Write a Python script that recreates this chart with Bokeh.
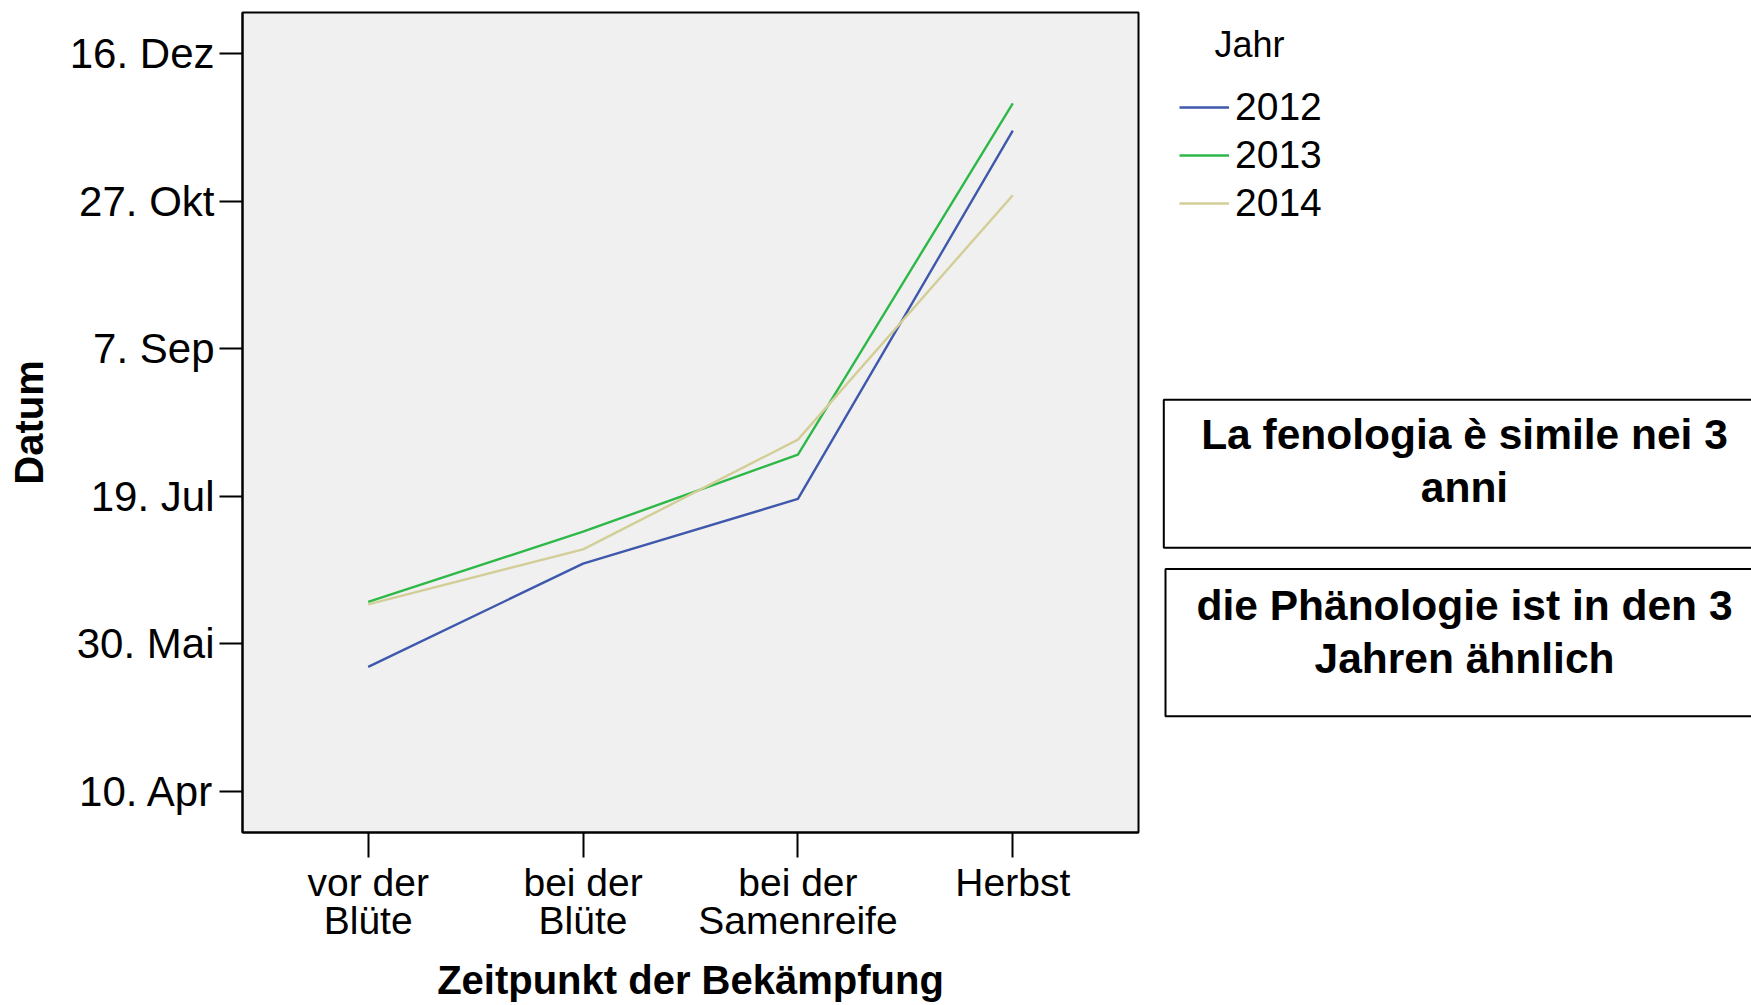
from bokeh.plotting import figure
from bokeh.layouts import row
from bokeh.models import Range1d, FixedTicker, Legend, LegendItem, Label, BoxAnnotation
from bokeh.embed import file_html
from bokeh.resources import INLINE

# ---- data ----
stages = ["vor der\nBlüte", "bei der\nBlüte", "bei der\nSamenreife", "Herbst"]
stage_pos = [0, 1, 2, 3]
years = ["2012", "2013", "2014"]
# day of year (10. Apr = 100 ... 16. Dez = 350)
doy_2012 = [142.2, 177.2, 199.1, 323.9]
doy_2013 = [164.2, 188.0, 214.1, 333.1]
doy_2014 = [163.4, 182.0, 219.2, 302.0]
tick_days = [100, 150, 200, 250, 300, 350]
tick_labels = ["10. Apr", "30. Mai", "19. Jul", "7. Sep", "27. Okt", "16. Dez"]
colors = ["#3E58AC", "#2EB848", "#D3CE97"]
note_it = "La fenologia è simile nei 3\nanni"
note_de = "die Phänologie ist in den 3\nJahren ähnlich"

FONT = "Liberation Sans"
W, H = 1751, 1005
W_MAIN = 1145
TOP, BOTTOM = 12, 173

p = figure(width=W_MAIN, height=H, output_backend="svg", toolbar_location=None,
           x_range=Range1d(-0.585, 3.585), y_range=Range1d(86.1, 363.9),
           min_border_left=242, min_border_right=7, min_border_top=TOP,
           min_border_bottom=BOTTOM)
p.background_fill_color = "#F0F0F0"
p.border_fill_color = "white"
p.outline_line_color = "black"
p.outline_line_width = 2
p.grid.visible = False

yax = p.yaxis[0]
yax.ticker = FixedTicker(ticks=tick_days)
yax.major_label_overrides = {d: l for d, l in zip(tick_days, tick_labels)}
yax.major_label_text_font = FONT
yax.major_label_text_font_size = "42px"
yax.major_label_text_color = "black"
yax.major_tick_out = 23
yax.major_tick_in = 0
yax.minor_tick_line_color = None
yax.major_tick_line_width = 2
yax.axis_line_width = 2
yax.major_label_standoff = 5
yax.axis_label = "Datum"
yax.axis_label_text_font = FONT
yax.axis_label_text_font_style = "bold"
yax.axis_label_text_font_size = "40px"
yax.axis_label_text_color = "black"
yax.axis_label_standoff = 16

xax = p.xaxis[0]
xax.ticker = FixedTicker(ticks=stage_pos)
xax.major_label_overrides = {i: s for i, s in zip(stage_pos, stages)}
xax.major_label_text_font = FONT
xax.major_label_text_font_size = "39px"
xax.major_label_text_color = "black"
xax.major_label_text_line_height = 0.9
xax.major_tick_out = 25
xax.major_tick_in = 0
xax.minor_tick_line_color = None
xax.major_tick_line_width = 2
xax.axis_line_width = 2
xax.major_label_standoff = 3
xax.axis_label = "Zeitpunkt der Bekämpfung"
xax.axis_label_text_font = FONT
xax.axis_label_text_font_style = "bold"
xax.axis_label_text_font_size = "40px"
xax.axis_label_text_color = "black"
xax.axis_label_standoff = 13

series = [doy_2012, doy_2013, doy_2014]
for vals, c in zip(series, colors):
    p.line(stage_pos, vals, line_color=c, line_width=2.4)

# ---- right-hand panel: legend and notes (page pixel coordinates) ----
q = figure(width=W - W_MAIN, height=H, output_backend="svg", toolbar_location=None,
           x_range=Range1d(W_MAIN, W), y_range=Range1d(H - BOTTOM, TOP),
           min_border_left=0, min_border_right=0,
           min_border_top=TOP, min_border_bottom=BOTTOM)
q.axis.visible = False
q.grid.visible = False
q.outline_line_color = None
q.background_fill_color = "white"
q.border_fill_color = "white"

# legend proxies: one point of each series (lies outside this panel's view)
items = []
for yr, vals, c in zip(years, series, colors):
    r = q.line(stage_pos[:1], vals[:1], line_color=c, line_width=2.4)
    items.append(LegendItem(label=yr, renderers=[r]))

legend = Legend(items=items, location=(34, (H - BOTTOM) - 227))
legend.border_line_color = None
legend.background_fill_alpha = 0
legend.padding = 0
legend.margin = 0
legend.spacing = 0
legend.label_text_font = FONT
legend.label_text_font_size = "39px"
legend.label_text_color = "black"
legend.glyph_width = 50
legend.glyph_height = 48
legend.label_height = 48
legend.label_standoff = 6
q.add_layout(legend)

q.add_layout(Label(x=1214, y=43.5, text="Jahr", text_font=FONT,
                   text_font_size="36px", text_color="black",
                   text_baseline="alphabetic"))

for (lft, top, bot) in [(1163.3, 399.3, 547.3), (1165, 568.4, 715.8)]:
    q.add_layout(BoxAnnotation(left=lft, right=1790, top=top, bottom=bot,
                               fill_alpha=0, line_color="black", line_alpha=1,
                               line_width=2))

for txt, ytop in [(note_it, 410.6), (note_de, 581.6)]:
    q.add_layout(Label(x=1464, y=ytop, text=txt, text_font=FONT,
                       text_font_size="42.5px", text_font_style="bold",
                       text_color="black", text_align="center",
                       text_baseline="top", text_line_height=1.136))

layout = row(p, q)
open("out.html", "w").write(file_html(layout, INLINE))
